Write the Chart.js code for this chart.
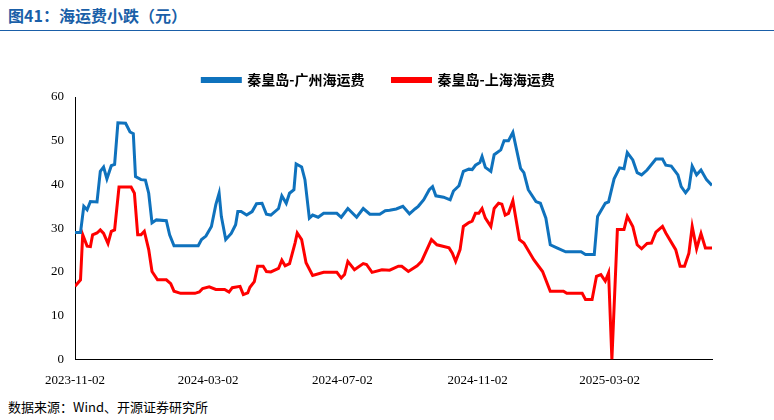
<!DOCTYPE html>
<html>
<head>
<meta charset="utf-8">
<script src="https://cdn.jsdelivr.net/npm/chart.js@4"></script>
<style>
  body { margin: 0; width: 774px; height: 420px; background: #fff; font-family: "Noto Sans CJK SC", sans-serif; overflow: hidden; }
  .title { position: absolute; left: 8px; top: 3px; font-size: 16px; font-weight: bold; color: #1a5fa8; }
  .rule { position: absolute; left: 0; top: 30px; width: 774px; height: 1px; background: #1a5fa8; }
  .chart-box { position: absolute; left: 0; top: 40px; width: 774px; height: 356px; }
  .source { position: absolute; left: 8px; top: 397px; font-size: 13px; color: #000; font-family: "Noto Sans CJK SC", "Liberation Serif", serif; }
</style>
</head>
<body>
<div class="title">图41：海运费小跌（元）</div>
<div class="rule"></div>
<div class="chart-box"><canvas id="chart" width="774" height="356"></canvas></div>
<div class="source">数据来源：Wind、开源证券研究所</div>
<script>
// days since 2023-11-02
const blueDays = [0, 5, 8, 11, 14, 20, 23, 26, 29, 33, 36, 39, 46, 50, 53, 55, 60, 64, 67, 70, 74, 83, 86, 90, 112, 115, 119, 124, 128, 131, 133, 137, 142, 146, 148, 151, 156, 161, 165, 170, 174, 178, 185, 188, 192, 195, 199, 201, 206, 209, 213, 216, 221, 226, 238, 242, 248, 256, 262, 268, 277, 282,
  286, 292, 298, 304, 309, 312, 317, 322, 325, 328, 335, 341, 344, 349, 353, 358, 361, 364, 368, 370, 373, 378, 381, 387, 390, 394, 398, 405, 408, 412, 419, 423, 428, 432, 438, 446, 460, 464, 472, 475, 482, 485, 490, 495, 499, 502, 507, 511, 515, 520, 528, 534, 537, 542, 548, 551, 555, 558, 561, 565, 569, 574, 579];
const blueValues = [29, 29, 35, 34.2, 36.1, 36, 43, 44, 41.3, 44.3, 44.6, 54.1, 54, 52, 51.6, 41.8, 41.1, 41, 38, 31.2, 31.9, 31.7, 28.5, 26, 26, 27.4, 28.2, 30.4, 35.4, 38, 32.7, 27.4, 28.8, 30.8, 33.8, 33.8, 33, 33.8, 35.6, 35.7, 33.2, 33, 34.5, 37.4, 35.7, 38, 38.8, 44.7, 44, 41.1, 32.3, 33, 32.5, 33.4, 33.4, 32.5, 34.5, 32.5, 34.5, 33.2, 33.2, 34,
  34.1, 34.4, 35, 33.3, 34.4, 35, 36.5, 38.8, 39.5, 37.4, 37.1, 36.5, 38.5, 39.7, 43, 43.5, 43.4, 44.4, 45, 46.4, 43.9, 43, 46.8, 47.9, 50, 50, 51.9, 43.7, 42.7, 38.8, 36.1, 35.7, 32.3, 26.2, 25.5, 24.6, 24.6, 24, 24, 32.7, 35.7, 36, 41.3, 43.8, 43.6, 47.3, 45.6, 42.7, 42.2, 43.3, 45.8, 45.8, 44.4, 44.2, 42.2, 39.5, 38.1, 39.1, 44.2, 42.2, 43.3, 41.1, 39.8];

const redDays = [0, 5, 7, 11, 14, 16, 20, 23, 26, 30, 33, 36, 40, 51, 54, 57, 60, 63, 67, 70, 75, 83, 87, 90, 96, 109, 113, 116, 122, 128, 136, 140, 143, 150, 153, 157, 159, 163, 166, 171, 174, 178, 185, 188, 191, 195, 200, 202, 206, 210, 216, 226, 238, 242, 245, 248, 254, 262, 265, 270, 279,
  286, 294, 297, 303, 311, 315, 324, 329, 340, 343, 346, 350, 353, 358, 361, 364, 367, 370, 373, 378, 381, 385, 388, 391, 394, 398, 404, 408, 417, 425, 432, 444, 447, 461, 464, 470, 474, 478, 482, 485, 488, 493, 499, 502, 507, 511, 515, 520, 524, 528, 534, 537, 546, 550, 554, 558, 561, 565, 569, 573, 579];
const redValues = [16.7, 18.2, 28.5, 25.9, 25.8, 28.5, 28.9, 29.6, 28.8, 26.5, 29.3, 29.6, 39.4, 39.4, 38, 28.5, 28.5, 29.3, 25.1, 20.1, 18.2, 18.2, 17.3, 15.6, 15.1, 15.1, 15.4, 16.2, 16.6, 16, 16, 15.4, 16.4, 16.7, 14.8, 15.2, 16.5, 17.8, 21.3, 21.3, 20.1, 20, 20.8, 22.7, 21.4, 21.9, 26.6, 28.9, 27.4, 22.1, 19.2, 19.9, 19.9, 18.6, 19.4, 22.4, 20.5, 21.9, 21.7, 19.9, 20.5,
  20.4, 21.3, 21.3, 20.1, 21.4, 22.4, 27.4, 26.2, 25.5, 24.3, 22.4, 25.1, 30.4, 31.3, 31.6, 33.4, 33.4, 34.5, 32.3, 30.4, 34.5, 35.7, 35.5, 33, 33.4, 36.3, 27.4, 26.6, 22.8, 20.1, 15.6, 15.6, 15.1, 15.1, 13.7, 13.7, 19, 19.4, 17.9, 19.8, 0, 29.7, 29.7, 32.7, 30.4, 26.2, 25.3, 26.5, 26.6, 29.1, 30.4, 28.9, 25.1, 21.3, 21.3, 24.3, 30.4, 25.3, 28.8, 25.5, 25.5];

const tickDays = [0, 121, 243, 366, 486];
const tickLabels = ['2023-11-02', '2024-03-02', '2024-07-02', '2024-11-02', '2025-03-02'];

function toPoints(days, values) {
    return days.map((d, i) => ({ x: d, y: values[i] }));
}

const ctx = document.getElementById('chart').getContext('2d');
window.myChart = new Chart(ctx, {
    type: 'line',
    data: {
        datasets: [{
            label: '秦皇岛-广州海运费',
            data: toPoints(blueDays, blueValues),
            borderColor: '#0f72bd',
            backgroundColor: '#0f72bd',
            borderWidth: 3,
            pointRadius: 0,
            tension: 0
        }, {
            label: '秦皇岛-上海海运费',
            data: toPoints(redDays, redValues),
            borderColor: '#ff0000',
            backgroundColor: '#ff0000',
            borderWidth: 3,
            pointRadius: 0,
            tension: 0
        }]
    },
    options: {
        responsive: false,
        animation: false,
        layout: { padding: { left: 45, right: 62, top: 0, bottom: 0 } },
        plugins: {
            legend: {
                display: true,
                labels: {
                    font: { size: 14, weight: 'bold', family: 'Noto Sans CJK SC' },
                    color: '#000',
                    boxWidth: 38,
                    boxHeight: 3,
                    padding: 28
                }
            },
            tooltip: { enabled: false }
        },
        scales: {
            x: {
                type: 'linear',
                min: 0,
                max: 579,
                afterBuildTicks: axis => { axis.ticks = tickDays.map(v => ({ value: v })); },
                ticks: {
                    callback: v => tickLabels[tickDays.indexOf(v)],
                    font: { size: 13, family: 'Liberation Serif' },
                    color: '#000',
                    maxRotation: 0,
                    padding: 8
                },
                grid: { display: false, drawTicks: true, tickLength: 5, color: '#000' },
                border: { display: true, color: '#000' }
            },
            y: {
                min: 0,
                max: 60,
                afterFit: axis => { axis.paddingTop = 0; },
                ticks: {
                    stepSize: 10,
                    font: { size: 13, family: 'Liberation Serif' },
                    color: '#000',
                    padding: 6
                },
                grid: { display: false, drawTicks: true, tickLength: 5, color: '#000' },
                border: { display: true, color: '#000' }
            }
        }
    }
});
// nudge the plot area down a few pixels to line up with the reference
window.myChart.options.plugins.legend.labels.padding = 28;
window.myChart.options.layout.padding.top = 5;
window.myChart.update();
</script>
</body>
</html>
